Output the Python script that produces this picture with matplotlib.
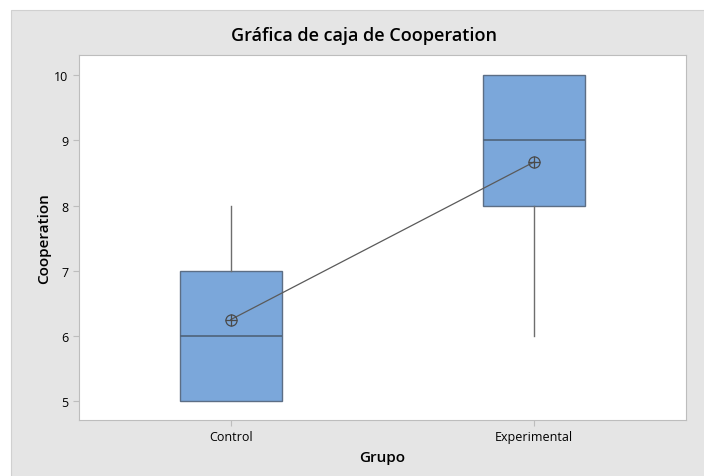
import matplotlib.pyplot as plt
from matplotlib.patches import Rectangle

# Datos
grupos = ['Control', 'Experimental']
minimo = [5, 6]
q1 = [5, 8]
mediana = [6, 9]
q3 = [7, 10]
maximo = [8, 10]
media = [6.25, 8.67]

plt.rcParams['font.family'] = ['Open Sans', 'DejaVu Sans']

fig = plt.figure(figsize=(7.04, 4.77), dpi=100)
fig.patch.set_facecolor('white')
# Panel gris de fondo
fondo = Rectangle((11 / 704, -0.01), 700 / 704, 1 - 11 / 477 + 0.01,
                  transform=fig.transFigure, facecolor='#E5E5E5',
                  edgecolor='#D0D0D0', lw=0.8, zorder=-10)
fig.add_artist(fondo)

ax = fig.add_axes([79 / 704, 1 - 421 / 477, 607 / 704, 365 / 477])
ax.set_facecolor('white')

stats = []
for i, g in enumerate(grupos):
    stats.append({'label': g, 'whislo': minimo[i], 'q1': q1[i], 'med': mediana[i],
                  'q3': q3[i], 'whishi': maximo[i], 'mean': media[i]})

pos = [1, 2]
ax.bxp(stats, positions=pos, widths=0.335, patch_artist=True, showcaps=False,
       showfliers=False,
       boxprops=dict(facecolor='#7BA7DA', edgecolor='#5C6E85', lw=1.0),
       medianprops=dict(color='#4F6379', lw=1.2),
       whiskerprops=dict(color='#6E6E6E', lw=1.0))

ax.plot(pos, media, color='#5A5A5A', lw=0.9, zorder=4)
ax.plot(pos, media, ls='none', marker='o', ms=8, mfc='none', mec='#4A4A4A', mew=0.9, zorder=5)
ax.plot(pos, media, ls='none', marker='+', ms=8, mec='#4A4A4A', mew=0.9, zorder=5)

ax.set_xlim(0.5, 2.5)
ax.set_ylim(4.71, 10.31)
ax.set_xticks(pos)
ax.set_xticklabels(grupos, fontsize=9)
ax.set_yticks([5, 6, 7, 8, 9, 10])
ax.tick_params(axis='both', colors='#BDBDBD', labelcolor='black', labelsize=9, length=4, width=0.8)
for s in ax.spines.values():
    s.set_color('#BDBDBD')
    s.set_linewidth(0.8)

ax.set_xlabel('Grupo', fontsize=11, fontweight='semibold', labelpad=5)
ax.set_ylabel('Cooperation', fontsize=11, fontweight='semibold', labelpad=2)
fig.text(364 / 704, 1 - 36 / 477, 'Gráfica de caja de Cooperation', ha='center', va='center',
         fontsize=13, fontweight='semibold')

fig.savefig('out.png', dpi=100)
